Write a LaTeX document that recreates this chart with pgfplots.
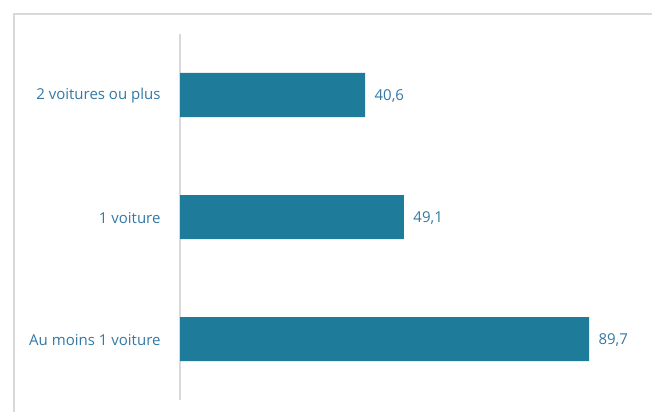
\documentclass[border=0pt]{standalone}
\usepackage{pgfplots}
\pgfplotsset{compat=1.18}
\usepackage{fontspec}
\setmainfont{Open Sans}
\definecolor{barblue}{RGB}{31,123,154}
\definecolor{txtblue}{RGB}{50,120,165}
\definecolor{framegray}{RGB}{217,217,217}
\begin{document}
\begin{tikzpicture}[x=1bp,y=1bp]
  \useasboundingbox (0,0) rectangle (652,412);
  % cadre
  \draw[framegray, line width=1.5bp] (14,0) -- (14,398) -- (652,398);
  \begin{axis}[
    at={(180bp,12bp)}, anchor=south west,
    scale only axis,
    width=456bp, height=366bp,
    xbar, bar width=44bp,
    xmin=0, xmax=100,
    ymin=-0.5, ymax=2.5,
    ytick={0,1,2},
    yticklabels={Au moins 1 voiture, 1 voiture, 2 voitures ou plus},
    axis x line=none,
    axis y line*=left,
    y axis line style={framegray, line width=1.5bp, -},
    major tick length=0pt,
    yticklabel style={font=\fontsize{15bp}{17bp}\selectfont, text=txtblue, xshift=-16bp, yshift=-1bp},
    nodes near coords,
    nodes near coords style={font=\fontsize{15bp}{17bp}\selectfont, text=txtblue, anchor=west, xshift=6bp, yshift=-1bp},
    point meta=explicit symbolic,
    clip=false,
  ]
  \addplot[fill=barblue, draw=none] table[meta=lab] {
    x y lab
    89.7 0 {89,7}
    49.1 1 {49,1}
    40.6 2 {40,6}
  };
  \end{axis}
\end{tikzpicture}
\end{document}
